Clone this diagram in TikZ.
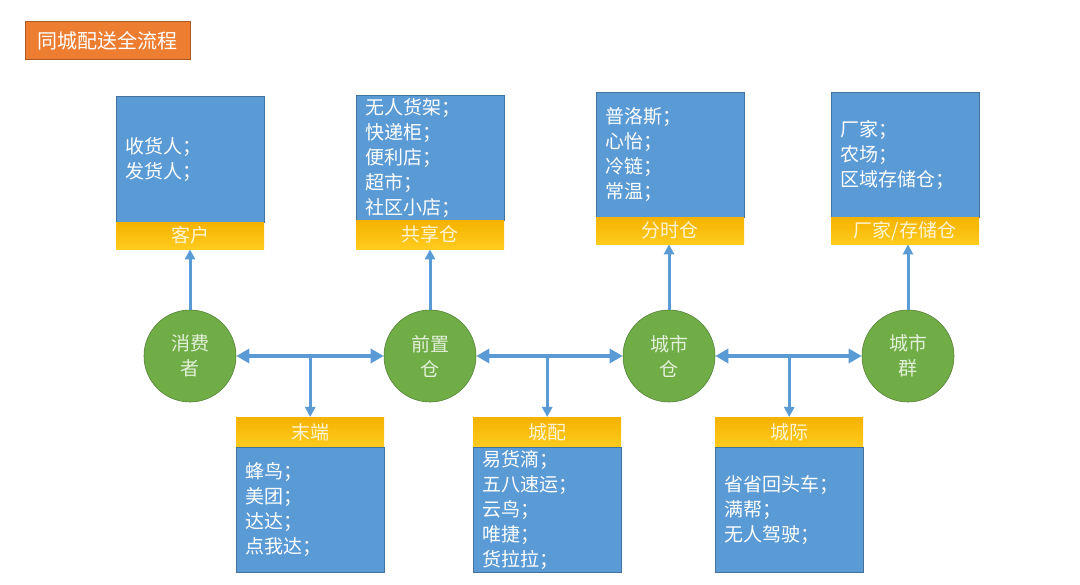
\documentclass[tikz,border=0pt]{standalone}
\usepackage{fontspec}
\newfontfamily\cjk{Noto Sans CJK SC}
\usetikzlibrary{arrows.meta}
\definecolor{boxblue}{RGB}{91,155,213}
\definecolor{boxedge}{RGB}{65,113,156}
\definecolor{arrowblue}{RGB}{91,155,213}
\definecolor{circgreen}{RGB}{112,173,71}
\definecolor{circedge}{RGB}{84,130,53}
\definecolor{circtext}{RGB}{226,240,217}
\definecolor{bandtop}{RGB}{245,178,0}
\definecolor{bandbot}{RGB}{255,204,30}
\definecolor{bandtext}{RGB}{255,244,210}
\definecolor{titleorange}{RGB}{237,125,49}
\definecolor{titleedge}{RGB}{174,90,33}
\tikzset{
  txt/.style={font=\cjk\fontsize{19}{25}\selectfont},
  bluebox/.style={txt, draw=boxedge, fill=boxblue, line width=0.5pt, text=white,
    anchor=north west, inner xsep=9pt, inner ysep=0pt, text width=130pt, align=left},
  band/.style={txt, top color=bandtop, bottom color=bandbot, draw=none, text=bandtext,
    anchor=north west, minimum width=148pt, minimum height=27pt, inner sep=0pt},
  circ/.style={txt, circle, fill=circgreen, draw=circedge, line width=0.6pt, text=circtext,
    minimum size=92pt, inner sep=0pt, align=center},
  titlebox/.style={font=\cjk\fontsize{20}{24}\selectfont, fill=titleorange, draw=titleedge,
    line width=0.8pt, text=white, anchor=north west, minimum width=165pt, minimum height=38pt, inner sep=0pt},
  harrow/.style={draw=arrowblue, line width=4pt,
    {Triangle[length=13pt,width=14pt]}-{Triangle[length=13pt,width=14pt]}},
  varrow/.style={draw=arrowblue, line width=3pt, -{Triangle[length=10pt,width=10pt]}}
}
\begin{document}
\begin{tikzpicture}[x=1pt,y=-1pt]
\fill[white] (0,0) rectangle (1080,585);
\useasboundingbox (0,0) rectangle (1080,585);

\node[titlebox] (title) at (25,21) {同城配送全流程};

% top boxes
\node[bluebox, minimum height=126pt] (t1) at (116,96) {收货人；\\发货人；};
\node[band] (t1l) at (116,222) {客户};
\node[bluebox, minimum height=125pt] (t2) at (356,95) {无人货架；\\快递柜；\\便利店；\\超市；\\社区小店；};
\node[band, minimum height=29pt] (t2l) at (356,220) {共享仓};
\node[bluebox, minimum height=125pt] (t3) at (596,92) {普洛斯；\\心怡；\\冷链；\\常温；};
\node[band] (t3l) at (596,217) {分时仓};
\node[bluebox, minimum height=125pt] (t4) at (831,92) {厂家；\\农场；\\区域存储仓；};
\node[band] (t4l) at (831,217) {厂家/存储仓};

% circles
\node[circ] (c1) at (190,356) {消费\\者};
\node[circ] (c2) at (430,356) {前置\\仓};
\node[circ] (c3) at (669,356) {城市\\仓};
\node[circ] (c4) at (908,356) {城市\\群};

% bottom boxes
\node[band, minimum height=30pt] (b1l) at (236,417) {末端};
\node[bluebox, minimum height=125pt] (b1) at (236,447) {蜂鸟；\\美团；\\达达；\\点我达；};
\node[band, minimum height=30pt] (b2l) at (473,417) {城配};
\node[bluebox, minimum height=125pt] (b2) at (473,447) {易货滴；\\五八速运；\\云鸟；\\唯捷；\\货拉拉；};
\node[band, minimum height=30pt] (b3l) at (715,417) {城际};
\node[bluebox, minimum height=125pt] (b3) at (715,447) {省省回头车；\\满帮；\\无人驾驶；};

% up arrows
\draw[varrow] (c1.north) -- (c1.north |- t1l.south);
\draw[varrow] (c2.north) -- (c2.north |- t2l.south);
\draw[varrow] (c3.north) -- (c3.north |- t3l.south);
\draw[varrow] (c4.north) -- (c4.north |- t4l.south);

% horizontal double arrows
\draw[harrow] (c1) -- (c2);
\draw[harrow] (c2) -- (c3);
\draw[harrow] (c3) -- (c4);

% down arrows
\draw[varrow] (b1l.north |- c1.center) -- (b1l.north);
\draw[varrow] (b2l.north |- c2.center) -- (b2l.north);
\draw[varrow] (b3l.north |- c3.center) -- (b3l.north);
\end{tikzpicture}
\end{document}
